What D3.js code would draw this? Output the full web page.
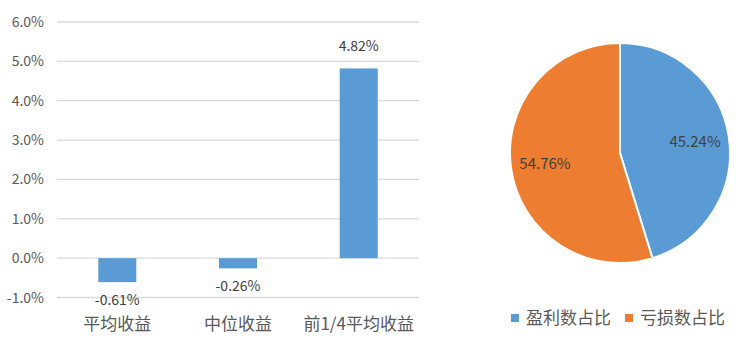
<!DOCTYPE html>
<html>
<head>
<meta charset="utf-8">
<script src="https://cdn.jsdelivr.net/npm/d3@7"></script>
<style>
  body { margin: 0; background: #fff; }
  svg text { font-family: "Noto Sans CJK SC", "Liberation Sans", sans-serif; }
</style>
</head>
<body>
<div id="viz"></div>
<script>
// bar chart data
const categories = ["平均收益", "中位收益", "前1/4平均收益"];
const returns = [-0.61, -0.26, 4.82];
const yTicks = [-1, 0, 1, 2, 3, 4, 5, 6];

// pie chart data
const pieNames = ["盈利数占比", "亏损数占比"];
const pieValues = [45.24, 54.76];
const colors = ["#5B9BD5", "#ED7D31"];

const width = 746, height = 341;

const svg = d3.select("#viz").append("svg")
    .attr("width", width)
    .attr("height", height);

// ---- bars ----
const x = d3.scaleBand().domain(categories).range([57, 419]).paddingInner(0.685).paddingOuter(0.342);
const y = d3.scaleLinear().domain([-1, 6]).range([297.5, 22]);

svg.append("g")
    .selectAll("line")
    .data(yTicks)
    .enter().append("line")
    .attr("x1", 57).attr("x2", 419)
    .attr("y1", d => y(d)).attr("y2", d => y(d))
    .attr("stroke", "#d9d9d9")
    .attr("stroke-width", 1.3);

svg.append("g")
    .selectAll("text")
    .data(yTicks)
    .enter().append("text")
    .attr("x", 44)
    .attr("y", d => y(d) + 5)
    .attr("text-anchor", "end")
    .attr("font-size", 14)
    .attr("fill", "#595959")
    .text(d => d.toFixed(1) + "%");

svg.append("g")
    .selectAll("rect")
    .data(returns)
    .enter().append("rect")
    .attr("x", (d, i) => x(categories[i]))
    .attr("width", x.bandwidth())
    .attr("y", d => y(Math.max(0, d)))
    .attr("height", d => Math.abs(y(d) - y(0)))
    .attr("fill", colors[0]);

svg.append("g")
    .selectAll("text")
    .data(returns)
    .enter().append("text")
    .attr("x", (d, i) => x(categories[i]) + x.bandwidth() / 2)
    .attr("y", d => d >= 0 ? y(d) - 17 : y(d) + 23)
    .attr("text-anchor", "middle")
    .attr("font-size", 14)
    .attr("fill", "#404040")
    .text(d => d.toFixed(2) + "%");

svg.append("g")
    .selectAll("text")
    .data(categories)
    .enter().append("text")
    .attr("x", d => x(d) + x.bandwidth() / 2)
    .attr("y", 330)
    .attr("text-anchor", "middle")
    .attr("font-size", 17)
    .attr("fill", "#595959")
    .text(d => d);

// ---- pie ----
const cx = 620, cy = 153, r = 110;
const pie = d3.pie().sort(null)(pieValues);
const arc = d3.arc().innerRadius(0).outerRadius(r);

const pg = svg.append("g").attr("transform", `translate(${cx},${cy})`);
pg.selectAll("path")
    .data(pie)
    .enter().append("path")
    .attr("d", arc)
    .attr("fill", (d, i) => colors[i])
    .attr("stroke", "#fff")
    .attr("stroke-width", 2);

const labelArc = d3.arc().innerRadius(r * 0.69).outerRadius(r * 0.69);
pg.selectAll("text")
    .data(pie)
    .enter().append("text")
    .attr("transform", d => `translate(${labelArc.centroid(d)})`)
    .attr("dy", 5)
    .attr("text-anchor", "middle")
    .attr("font-size", 15)
    .attr("fill", "#404040")
    .text(d => d.data.toFixed(2) + "%");

// legend
const lg = svg.append("g").attr("transform", "translate(511,318)");
const items = lg.selectAll("g")
    .data(pieNames)
    .enter().append("g")
    .attr("transform", (d, i) => `translate(${i * 114},0)`);
items.append("rect")
    .attr("x", 0).attr("y", -4)
    .attr("width", 8).attr("height", 8)
    .attr("fill", (d, i) => colors[i]);
items.append("text")
    .attr("x", 15).attr("y", 6)
    .attr("font-size", 17)
    .attr("fill", "#595959")
    .text(d => d);
</script>
</body>
</html>
